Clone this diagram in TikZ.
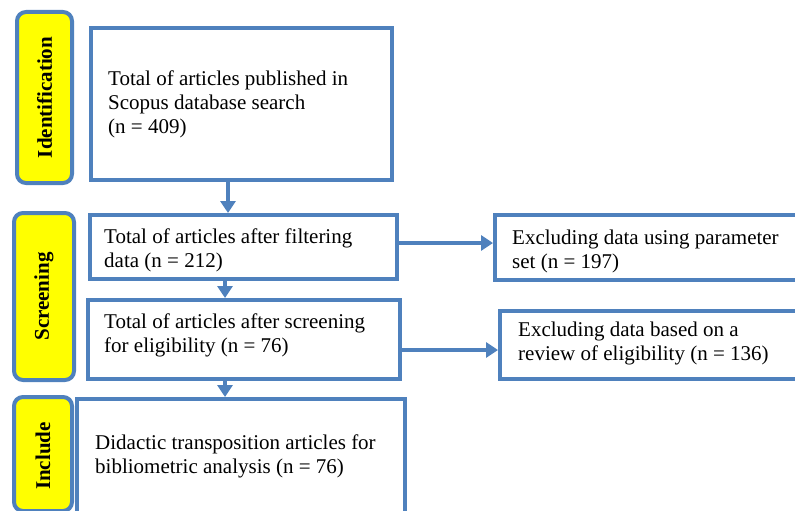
\documentclass[tikz,border=0pt]{standalone}
\usepackage{fontspec}
\setmainfont{Liberation Serif}
\usetikzlibrary{arrows.meta}
\definecolor{bblue}{RGB}{79,129,189}
\definecolor{lyellow}{RGB}{255,255,0}
\begin{document}
\begin{tikzpicture}[x=1pt,y=-1pt,
  box/.style={draw=bblue, line width=4pt, anchor=north west, inner sep=0pt},
  lab/.style={draw=bblue, fill=lyellow, line width=4pt, rounded corners=9pt, anchor=north west, inner sep=0pt},
  labtxt/.style={rotate=90, font=\fontsize{21}{24}\selectfont\bfseries},
  txt/.style={anchor=west, align=left, inner sep=0pt, font=\fontsize{21}{24}\selectfont},
  arr/.style={draw=bblue, line width=3.5pt, -{Triangle[width=15pt,length=12pt]}}]
\useasboundingbox (0,0) rectangle (795,511);
\clip (0,0) rectangle (795,511);
% labels
\node[lab, minimum width=55, minimum height=171] (lid) at (15,10) {};
\node[labtxt] (tid) at (lid.center) {Identification};
\node[lab, minimum width=60, minimum height=167] (lsc) at (12,211) {};
\node[labtxt] (tsc) at (lsc.center) {Screening};
\node[lab, minimum width=58, minimum height=114] (lin) at (12,395) {};
\node[labtxt] (tin) at ([yshift=-2pt]lin.center) {Include};
% text
\node[txt] (t1) at (108,104) {Total of articles published in\\Scopus database search\\(n = 409)};
\node[txt] (t2) at (104,250) {Total of articles after filtering\\data (n = 212)};
\node[txt] (t3) at (512,251) {Excluding data using parameter\\set (n = 197)};
\node[txt] (t4) at (104,335) {Total of articles after screening\\for eligibility (n = 76)};
\node[txt] (t5) at (518,343) {Excluding data based on a\\review of eligibility (n = 136)};
\node[txt] (t6) at (95,456) {Didactic transposition articles for\\bibliometric analysis (n = 76)};
% boxes
\node[box, minimum width=301, minimum height=152] (b1) at (89,26) {};
\node[box, minimum width=307, minimum height=64] (b2) at (88,213) {};
\node[box, minimum width=312, minimum height=65] (e1) at (493,213) {};
\node[box, minimum width=312, minimum height=79] (b3) at (86,298) {};
\node[box, minimum width=307, minimum height=68] (e2) at (498,309) {};
\node[box, minimum width=328, minimum height=114] (b4) at (75,397) {};
% arrows
\coordinate (xa) at (228,0);
\coordinate (xb) at (225,0);
\coordinate (ya) at (0,243);
\coordinate (yb) at (0,350);
\draw[arr] (b1.south -| xa) -- (b2.north -| xa);
\draw[arr] (b2.south -| xb) -- (b3.north -| xb);
\draw[arr] (b3.south -| xb) -- (b4.north -| xb);
\draw[arr] (b2.east |- ya) -- (e1.west |- ya);
\draw[arr] (b3.east |- yb) -- (e2.west |- yb);
\end{tikzpicture}
\end{document}
